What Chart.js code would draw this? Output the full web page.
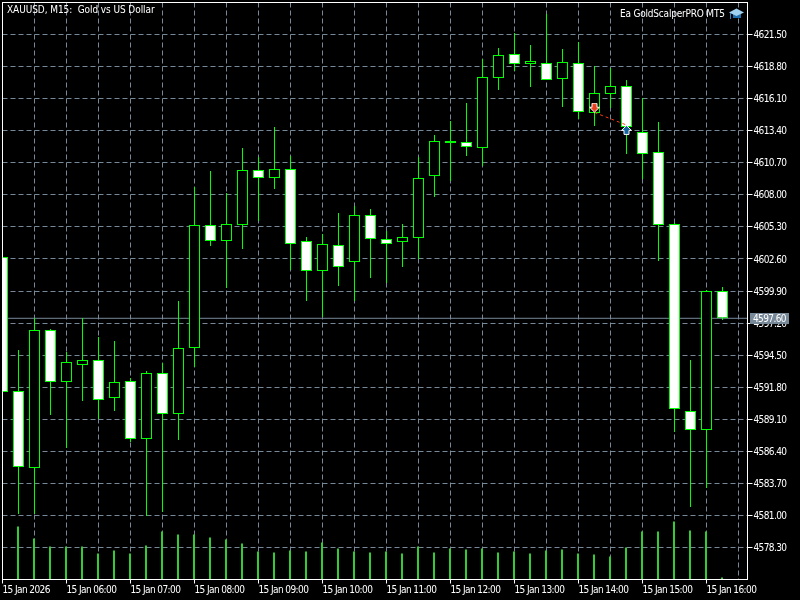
<!DOCTYPE html>
<html><head><meta charset="utf-8">
<style>html,body{margin:0;padding:0;background:#000}canvas{display:block}</style>
<script src="https://cdn.jsdelivr.net/npm/chart.js@4"></script>
</head><body><canvas id="c" width="800" height="600"></canvas>
<script>
const symbolTitle = 'XAUUSD, M15:  Gold vs US Dollar';
const expertName = 'Ea GoldScalperPRO MT5';
const lastPrice = 4597.60;
const timeLabels = ['15 Jan 2026','15 Jan 06:00','15 Jan 07:00','15 Jan 08:00','15 Jan 09:00','15 Jan 10:00','15 Jan 11:00','15 Jan 12:00','15 Jan 13:00','15 Jan 14:00','15 Jan 15:00','15 Jan 16:00'];
const priceTicks = [4621.50,4618.80,4616.10,4613.40,4610.70,4608.00,4605.30,4602.60,4599.90,4597.20,4594.50,4591.80,4589.10,4586.40,4583.70,4581.00,4578.30];
const opens = [4602.76,4591.48,4584.99,4596.62,4592.24,4593.67,4594.09,4590.89,4592.32,4587.44,4592.99,4589.54,4595.10,4605.46,4604.11,4605.46,4610.09,4609.42,4610.17,4604.11,4601.58,4603.77,4602.34,4606.30,4604.28,4604.03,4604.36,4609.58,4612.36,4612.45,4611.94,4617.84,4619.86,4619.02,4619.10,4617.75,4619.10,4614.89,4616.49,4617.16,4613.29,4611.61,4605.54,4589.80,4588.19,4599.90];
const highs = [4602.85,4594.93,4597.63,4596.70,4594.76,4597.63,4596.03,4595.69,4592.57,4593.16,4593.84,4599.06,4608.66,4610.01,4608.15,4611.94,4611.18,4613.71,4611.27,4604.45,4604.70,4606.47,4607.06,4606.81,4604.95,4605.54,4611.18,4613.04,4614.22,4615.73,4619.44,4620.36,4621.63,4620.62,4623.23,4620.28,4620.87,4618.85,4618.68,4617.67,4616.15,4614.13,4605.63,4594.09,4599.98,4600.24];
const lows = [4591.30,4581.12,4581.12,4589.46,4586.68,4590.64,4589.12,4589.80,4587.18,4580.95,4581.29,4587.35,4593.50,4603.69,4600.15,4603.44,4605.79,4608.49,4601.67,4599.06,4597.71,4600.32,4599.06,4600.99,4600.57,4601.92,4602.59,4607.82,4609.16,4611.27,4610.43,4616.83,4618.43,4617.08,4617.67,4615.40,4614.38,4613.79,4615.31,4611.44,4609.33,4602.43,4588.03,4581.71,4583.31,4597.46];
const closes = [4591.39,4585.08,4596.62,4592.24,4593.92,4594.09,4590.72,4592.24,4587.44,4592.99,4589.54,4595.10,4605.46,4604.11,4605.54,4610.09,4609.42,4610.17,4603.86,4601.58,4603.86,4601.92,4606.30,4604.28,4603.86,4604.45,4609.42,4612.53,4612.53,4612.03,4617.92,4619.77,4619.02,4619.27,4617.67,4619.18,4614.97,4616.57,4617.16,4613.71,4611.44,4605.46,4589.96,4588.19,4599.90,4597.60];
const volumes = [1200,2120,1640,1320,1320,1320,1040,1160,1040,1360,1920,1800,1800,1680,1600,1440,1120,1080,1160,1120,1480,1240,1120,1080,1120,1040,1320,1080,1240,1200,1240,1080,1120,1040,1160,1200,1040,1000,920,1280,1920,1920,2320,1960,1920,80];
const tradeBars = [37, 39];
const tradeLine = [4614.93, 4613.88];
const arrowPrices = [4615.34, 4613.46];
const GREEN = '#00FF00', GRID = '#778899', WHITE = '#FFFFFF';
const FAMILY = '"DejaVu Sans Condensed"';
const FONT = '10px ' + FAMILY;

function arrowImage(up, fill) {
  const cv = document.createElement('canvas'); cv.width = 11; cv.height = 10;
  const g = cv.getContext('2d');
  const raw = [[5.5,0.6],[10.5,5.4],[8,5.4],[8,9.4],[3,9.4],[3,5.4],[0.5,5.4]];
  const pts = up ? raw : raw.map(p => [p[0], 10 - p[1]]);
  g.beginPath(); pts.forEach((p,i) => i ? g.lineTo(p[0],p[1]) : g.moveTo(p[0],p[1])); g.closePath();
  g.fillStyle = fill; g.fill(); g.strokeStyle = WHITE; g.lineWidth = 1; g.stroke();
  return cv;
}

const chrome = {
  id: 'chrome',
  beforeDraw(chart) { chart.ctx.letterSpacing = '-0.6px'; },
  afterDraw(chart) {
    const g = chart.ctx, a = chart.chartArea, ys = chart.scales.y;
    g.save();
    g.strokeStyle = WHITE; g.lineWidth = 1;
    g.strokeRect(a.left, a.top, a.right - a.left, a.bottom - a.top);
    g.font = FONT; g.fillStyle = WHITE; g.textBaseline = 'alphabetic'; g.textAlign = 'left';
    g.letterSpacing = '-0.08px';
    g.fillText(symbolTitle, 7, 13);
    g.letterSpacing = '-0.2px';
    g.fillText(expertName, 620, 17);
    // mortarboard icon
    g.fillStyle = '#1F6FB0';
    g.beginPath(); g.moveTo(733,14); g.lineTo(741,14); g.lineTo(741,18); g.lineTo(733,18); g.closePath(); g.fill();
    g.fillStyle = '#9FD0F0';
    g.beginPath(); g.moveTo(729,12.5); g.lineTo(736.5,8.5); g.lineTo(744,12.5); g.lineTo(736.5,16); g.closePath(); g.fill();
    g.fillStyle = '#2F80C0'; g.fillRect(730,13,1,6);
    // current price tag
    const py = Math.round(ys.getPixelForValue(lastPrice));
    g.fillStyle = GRID; g.fillRect(750, py - 5, 39, 11);
    g.letterSpacing = '-0.6px';
    g.fillStyle = WHITE; g.fillText(lastPrice.toFixed(2), 753, py + 4);
    g.restore();
  }
};

const idx = opens.map((_, i) => i);
new Chart(document.getElementById('c'), {
  type: 'bar',
  plugins: [chrome],
  data: { datasets: [
    { type:'line', label:'Last', order:6, xAxisID:'x', yAxisID:'y',
      data:[{x:0,y:lastPrice},{x:46.5625,y:lastPrice}], borderColor:GRID, borderWidth:1, pointRadius:0 },
    { type:'bar', label:'Volume', order:5, xAxisID:'xv', yAxisID:'yv', grouped:false, barThickness:2, inflateAmount:0, borderWidth:0,
      data: idx.map(i => ({x:i, y:volumes[i]})), backgroundColor:'#32CD32' },
    { type:'bar', label:'Range', order:4, xAxisID:'x', yAxisID:'y', grouped:false, barThickness:1, inflateAmount:0, borderWidth:0,
      data: idx.map(i => ({x:i, y:[lows[i], highs[i]]})), backgroundColor:GREEN },
    { type:'bar', label:'Body', order:3, xAxisID:'x', yAxisID:'y', grouped:false, barThickness:11, inflateAmount:0, borderWidth:1, borderSkipped:false,
      data: idx.map(i => ({x:i, y:[opens[i], closes[i]]})), borderColor:GREEN,
      backgroundColor: idx.map(i => closes[i] < opens[i] ? WHITE : '#000000') },
    { type:'line', label:'Trade', order:2, xAxisID:'x', yAxisID:'y',
      data: tradeBars.map((b,i) => ({x:b, y:tradeLine[i]})), borderColor:'#FF3A10', borderWidth:1, borderDash:[3,3], pointRadius:0 },
    { type:'line', label:'Arrows', order:1, xAxisID:'x', yAxisID:'y', showLine:false,
      data: tradeBars.map((b,i) => ({x:b, y:arrowPrices[i]})), pointRadius:6,
      pointStyle:[arrowImage(false,'#E8401C'), arrowImage(true,'#14659E')] }
  ]},
  options: {
    responsive:false, animation:false, devicePixelRatio:1,
    layout:{autoPadding:false,padding:{left:2.5,top:2.5,right:0,bottom:0}},
    events:[],
    plugins:{legend:{display:false},tooltip:{enabled:false},title:{display:false}},
    scales:{
      x:{ type:'linear', position:'bottom', min:0, max:46.5625, offset:false,
        afterBuildTicks:s=>{ s.ticks = idx.filter(i=>i%2===0).concat([46]).filter((v,k,a)=>a.indexOf(v)===k).map(v=>({value:v})); },
        afterFit:s=>{ s.height = 20.5; s.paddingLeft = 0; s.paddingRight = 0; },
        grid:{ offset:false, color:GRID, lineWidth:1, drawTicks:true, tickLength:4, tickWidth:1,
          tickColor:c => (c.tick && c.tick.value%4===0) ? WHITE : 'rgba(0,0,0,0)' },
        border:{ display:true, color:WHITE, width:1, dash:[5,3] },
        ticks:{ color:WHITE, font:{family:FAMILY,size:10}, align:'start', autoSkip:false, maxRotation:0, minRotation:0, padding:1,
          callback:v => v%4===0 ? (timeLabels[v/4]||'') : '' }
      },
      xv:{ type:'linear', display:false, min:0.03125, max:46.59375, offset:false, grid:{offset:false} },
      y:{ type:'linear', position:'right', min:4575.605, max:4624.195, beginAtZero:false,
        afterBuildTicks:s=>{ s.ticks = priceTicks.map(v=>({value:v})); },
        afterFit:s=>{ s.width = 52.5; s.paddingTop = 0; s.paddingBottom = 0; },
        grid:{ color:GRID, lineWidth:1, tickLength:5, tickWidth:1, tickColor:WHITE },
        border:{ display:true, color:WHITE, width:1, dash:[5,3] },
        ticks:{ color:WHITE, font:{family:FAMILY,size:10}, autoSkip:false, padding:1, labelOffset:1,
          callback:v => Number(v).toFixed(2) }
      },
      yv:{ type:'linear', display:false, position:'left', min:0, max:23080 }
    }
  }
});
</script></body></html>
